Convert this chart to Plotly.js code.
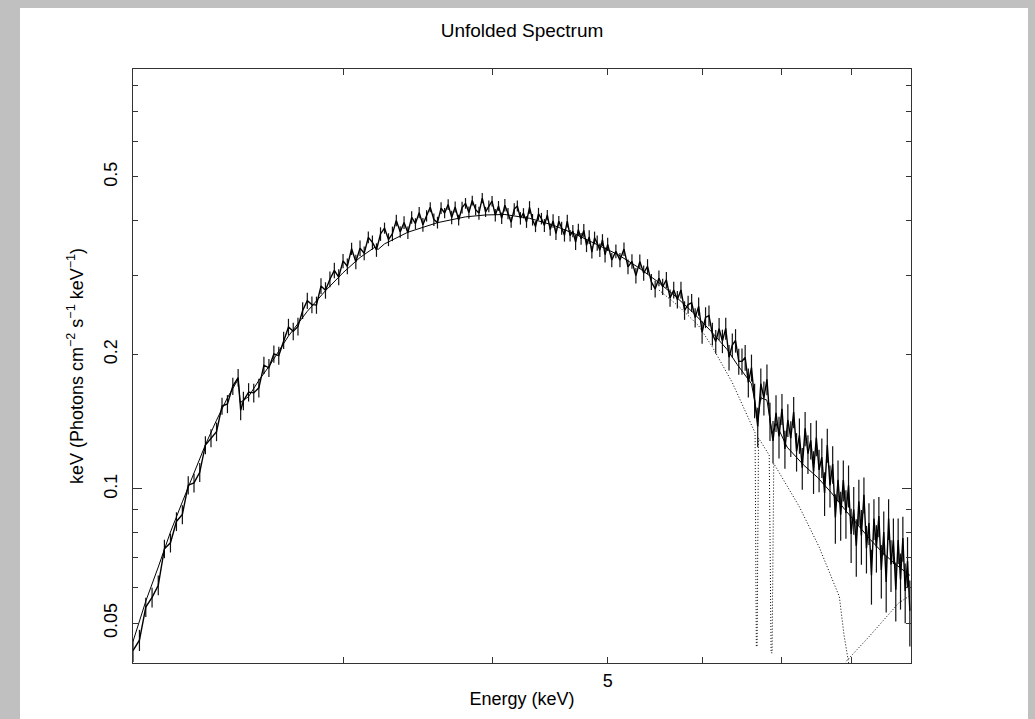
<!DOCTYPE html>
<html>
<head>
<meta charset="utf-8">
<script src="https://cdn.plot.ly/plotly-3.0.1.min.js"></script>
<style>
  html, body { margin:0; padding:0; background:#c0c0c0; width:1035px; height:719px; overflow:hidden; }
  #chart { position:absolute; left:20px; top:8px; width:1008px; height:711px; background:#fff; }
</style>
</head>
<body>
<div id="chart"></div>
<script>
// ---------- data ----------
// Energies (keV), unfolded flux E*F(E) (keV Photons cm^-2 s^-1 keV^-1), and errors
const eLow = [2.000,2.025,2.050,2.075,2.100,2.125,2.150,2.175,2.200,2.225,2.250,2.275,2.300,2.325,2.350,2.375,2.400,2.425,2.450,2.462,2.475,2.500,2.525,2.550,2.575,2.600,2.625,2.650,2.675,2.700,2.725,2.750,2.775,2.800,2.825,2.850,2.875,2.900,2.925,2.950,2.975];
const fLow = [0.0434,0.0458,0.0543,0.0571,0.0608,0.0734,0.0757,0.0845,0.0876,0.1019,0.1031,0.1089,0.1254,0.1300,0.1343,0.1533,0.1550,0.1699,0.1775,0.1500,0.1575,0.1647,0.1641,0.1684,0.1893,0.1868,0.2006,0.1989,0.2154,0.2306,0.2254,0.2312,0.2511,0.2640,0.2588,0.2582,0.2848,0.2786,0.2949,0.3088,0.2983];
const errLow = [0.0025,0.0025,0.0027,0.0029,0.0031,0.0035,0.0037,0.0041,0.0043,0.0048,0.005,0.0053,0.0058,0.006,0.0064,0.0068,0.0072,0.0076,0.008,0.0075,0.0075,0.0078,0.008,0.0082,0.0085,0.0087,0.009,0.0093,0.0096,0.0099,0.0102,0.0105,0.0108,0.011,0.0112,0.0114,0.0116,0.0118,0.012,0.0122,0.0124];

const eMid = [3.000,3.025,3.050,3.075,3.100,3.125,3.150,3.175,3.200,3.225,3.250,3.275,3.300,3.325,3.350,3.375,3.400,3.425,3.450,3.475,3.500,3.525,3.550,3.575,3.600,3.625,3.650,3.675,3.700,3.725,3.750,3.775,3.800,3.825,3.850,3.875,3.900,3.925,3.950,3.975,4.000,4.025,4.050,4.075,4.100,4.125,4.150,4.175,4.200,4.225,4.250,4.275,4.300,4.325,4.350,4.375,4.400,4.425,4.450,4.475,4.500,4.525,4.550,4.575,4.600,4.625,4.650,4.675,4.700,4.725,4.750,4.775,4.800,4.825,4.850,4.875,4.900,4.925,4.950,4.975];
const fMid = [0.3242,0.3155,0.3453,0.3226,0.3464,0.3372,0.3662,0.3567,0.3431,0.3726,
  0.3841,0.3619,0.3730,0.3996,0.3766,0.3953,0.3751,0.4058,0.3932,0.4160,
  0.3907,0.4092,0.4277,0.4013,0.3952,0.4259,0.4152,0.4335,0.4058,0.4284,
  0.4005,0.4269,0.4364,0.4163,0.4428,0.4225,0.4150,0.4484,0.4177,0.4296,
  0.4413,0.4106,0.4307,0.4042,0.4322,0.4140,0.3960,0.4237,0.4306,0.4041,
  0.4147,0.3965,0.4274,0.4011,0.3872,0.4134,0.4034,0.3894,0.4109,0.3812,
  0.3986,0.3731,0.3980,0.3841,0.3702,0.3983,0.3694,0.3782,0.3572,0.3808,
  0.3636,0.3794,0.3513,0.3669,0.3392,0.3652,0.3555,0.3427,0.3612,0.3347];
const errMid = [0.012,0.013,0.011,0.012,0.014,0.012,0.011,0.013,0.012,0.013,0.011,0.012,0.014,0.012,0.011,0.013,0.012,0.013,0.011,0.012,
  0.014,0.012,0.011,0.013,0.012,0.013,0.011,0.012,0.014,0.012,0.011,0.013,0.012,0.013,0.011,0.012,0.014,0.012,0.011,0.013,
  0.012,0.013,0.011,0.012,0.014,0.012,0.011,0.013,0.012,0.013,0.011,0.012,0.014,0.012,0.011,0.013,0.012,0.013,0.011,0.012,
  0.014,0.012,0.011,0.013,0.012,0.013,0.011,0.012,0.014,0.012,0.011,0.013,0.012,0.013,0.011,0.012,0.014,0.012,0.011,0.013];

const eHigh = [5.00,5.04,5.08,5.12,5.16,5.20,5.24,5.28,5.32,5.36,
  5.40,5.44,5.48,5.52,5.56,5.60,5.64,5.68,5.72,5.76,
  5.80,5.84,5.88,5.92,5.96,6.00,6.04,6.08,6.12,6.16,
  6.20,6.24,6.28,6.32,6.36,6.40,6.44,6.48,6.52,6.56,
  6.60,6.64,6.68,6.72,6.76,6.80,6.84,6.88,6.92,6.96,
  7.00,7.04,7.08,7.12,7.16,7.20,7.24,7.28,7.32,7.36,
  7.40,7.44,7.48,7.52,7.56,7.60,7.64,7.68,7.72,7.76,
  7.80,7.84,7.88,7.92,7.96,8.00,8.04,8.08,8.12,8.16,
  8.20,8.24,8.28,8.32,8.36,8.40,8.44,8.48,8.52,8.56,
  8.60,8.64,8.68,8.72,8.76,8.80,8.84,8.88,8.92,8.96];
const fHigh = [0.3532,0.3258,0.3408,0.3256,0.3446,0.3145,0.3235,0.3005,0.3231,0.3045,
  0.3151,0.2909,0.2806,0.2964,0.2839,0.2941,0.2678,0.2791,0.2657,0.2791,
  0.2512,0.2589,0.2612,0.2420,0.2564,0.2244,0.2422,0.2445,0.2226,0.2139,
  0.2285,0.2144,0.2289,0.1972,0.2099,0.2150,0.1931,0.1932,0.1970,0.1732,
  0.1869,0.158,0.138,0.172,0.160,0.176,0.142,0.128,0.148,0.131,
  0.1511,0.1229,0.1427,0.1298,0.1487,0.1213,0.1318,0.1115,0.1366,0.1199,
  0.1284,0.1094,0.1303,0.1103,0.1177,0.0979,0.1254,0.1018,0.1136,0.0863,
  0.1048,0.0875,0.1047,0.0883,0.1018,0.0792,0.0899,0.0745,0.0938,0.0786,
  0.0970,0.0736,0.0838,0.0640,0.0858,0.0739,0.0869,0.0658,0.0800,0.0618,
  0.0858,0.0677,0.0768,0.0594,0.0768,0.0626,0.0776,0.0590,0.0689,0.0533];
const errHigh = [0.012,0.012,0.012,0.012,0.012,0.012,0.012,0.012,0.012,0.012,
  0.012,0.012,0.012,0.012,0.012,0.012,0.012,0.012,0.012,0.012,
  0.012,0.012,0.012,0.012,0.012,0.013,0.013,0.013,0.013,0.013,
  0.013,0.013,0.013,0.013,0.013,0.013,0.013,0.013,0.013,0.013,
  0.013,0.014,0.014,0.014,0.014,0.014,0.014,0.014,0.014,0.014,
  0.012,0.012,0.012,0.012,0.012,0.012,0.012,0.012,0.012,0.012,
  0.012,0.012,0.012,0.012,0.012,0.011,0.011,0.011,0.011,0.011,
  0.011,0.011,0.011,0.011,0.011,0.011,0.011,0.011,0.011,0.011,
  0.009,0.009,0.009,0.009,0.009,0.009,0.009,0.009,0.009,0.009,
  0.009,0.009,0.009,0.009,0.009,0.009,0.009,0.009,0.009,0.009];

// Total model (solid line)
const modelE = [2.00,2.05,2.10,2.15,2.20,2.25,2.30,2.35,2.40,2.45,2.46,2.50,2.55,2.60,2.70,2.80,2.90,3.00,3.10,3.19,3.21,3.25,3.40,3.60,3.80,3.95,4.10,4.30,4.50,4.70,4.90,5.10,5.30,5.50,5.70,5.90,6.10,6.30,6.42,6.60,6.64,6.68,6.72,6.80,6.87,6.92,7.07,7.30,7.50,7.70,7.90,8.10,8.30,8.50,8.70,8.96];
const modelF = [0.0455,0.0560,0.0668,0.0800,0.0935,0.1090,0.1255,0.1425,0.1600,0.1760,0.1560,0.1610,0.1750,0.1880,0.2200,0.2500,0.2780,0.3050,0.3300,0.3480,0.3440,0.3540,0.3760,0.3950,0.4070,0.4110,0.4120,0.4040,0.3900,0.3720,0.3530,0.3350,0.3140,0.2920,0.2700,0.2480,0.2260,0.2050,0.1900,0.1720,0.1580,0.1420,0.1600,0.1580,0.1330,0.1400,0.1240,0.1130,0.1060,0.0980,0.0900,0.0830,0.0770,0.0720,0.0680,0.0640];

// Model components (dotted)
const compAE = [5.52,5.74,5.96,6.12,6.36,6.61,6.646,6.662,6.672,6.69,6.83,6.855,6.868,6.89,7.24,7.52,7.82,7.89,7.97,8.05];
const compAF = [0.279,0.256,0.232,0.208,0.173,0.138,0.1335,0.0443,0.0443,0.130,0.119,0.0429,0.0429,0.114,0.0911,0.0741,0.0573,0.0471,0.040,0.034];
const compBE = [7.80,7.92,8.28,8.77,8.98];
const compBF = [0.036,0.041,0.0466,0.0555,0.0578];

// Axis ticks
const xTickVals = [5];
const xTickText = ['5'];
const xMinorVals = [2,3,4,6,7,8];
const yTickVals = [0.05,0.1,0.2,0.5];
const yTickText = ['0.05','0.1','0.2','0.5'];
const yMinorVals = [0.06,0.07,0.08,0.09,0.3,0.4,0.6,0.7,0.8];
const yMajorVals = [0.1];
const xRange = [2.0, 8.98];
const yRange = [0.0407, 0.873];

// ---------- build ----------
const energy = eLow.concat(eMid, eHigh);
const flux = fLow.concat(fMid, fHigh);
const fluxErr = errLow.concat(errMid, errHigh);

const FONT = 'Liberation Sans, Arial, Helvetica, sans-serif';
const AXCOL = '#333333';
const DOTS = '1px,2px';

const traces = [
  { x: energy, y: flux, type: 'scatter', mode: 'lines',
    line: { color: '#000', width: 1.4 },
    error_y: { type: 'data', array: fluxErr, visible: true, color: '#111', thickness: 1.2, width: 0 },
    hoverinfo: 'skip' },
  { x: modelE, y: modelF, type: 'scatter', mode: 'lines', yaxis: 'y2',
    line: { color: '#000', width: 1 }, hoverinfo: 'skip' },
  { x: compAE, y: compAF, type: 'scatter', mode: 'lines',
    line: { color: '#000', width: 1, dash: DOTS }, hoverinfo: 'skip' },
  { x: compBE, y: compBF, type: 'scatter', mode: 'lines',
    line: { color: '#000', width: 1, dash: DOTS }, hoverinfo: 'skip' }
];

const logR = r => [Math.log10(r[0]), Math.log10(r[1])];

const layout = {
  width: 1008, height: 711,
  margin: { l: 113, r: 117, t: 61, b: 56 },
  paper_bgcolor: '#fff', plot_bgcolor: '#fff',
  showlegend: false, hovermode: false,
  font: { family: FONT, color: '#000', size: 18 },
  title: { text: 'Unfolded Spectrum', xref: 'paper', x: 0.5, xanchor: 'center',
           yref: 'container', y: 0.968, yanchor: 'middle',
           font: { family: FONT, size: 19, color: '#000' } },
  xaxis: {
    type: 'log', range: logR(xRange), autorange: false,
    tickmode: 'array', tickvals: xTickVals, ticktext: xTickText,
    ticks: 'inside', ticklen: 6, tickwidth: 1, tickcolor: AXCOL,
    minor: { tickmode: 'array', tickvals: xMinorVals, ticks: 'inside', ticklen: 6, tickwidth: 1, tickcolor: AXCOL, showgrid: false },
    showline: true, linecolor: AXCOL, linewidth: 1, mirror: 'allticks',
    showgrid: false, zeroline: false,
    tickfont: { family: FONT, size: 18, color: '#000' },
    ticklabelstandoff: 1,
    title: { text: 'Energy (keV)', standoff: 2, font: { family: FONT, size: 18, color: '#000' } }
  },
  yaxis: {
    type: 'log', range: logR(yRange), autorange: false,
    tickmode: 'array', tickvals: yTickVals, ticktext: yTickText, tickangle: -90,
    ticks: 'inside', ticklen: 5, tickwidth: 1, tickcolor: AXCOL,
    minor: { tickmode: 'array', tickvals: yMinorVals, ticks: 'inside', ticklen: 5, tickwidth: 1, tickcolor: AXCOL, showgrid: false },
    showline: true, linecolor: AXCOL, linewidth: 1, mirror: 'allticks',
    showgrid: false, zeroline: false,
    tickfont: { family: FONT, size: 18, color: '#000' },
    ticklabelstandoff: 8,
    title: { text: 'keV (Photons cm<sup>\u22122</sup> s<sup>\u22121</sup> keV<sup>\u22121</sup>)', standoff: 12,
             font: { family: FONT, size: 18, color: '#000' } }
  },
  yaxis2: {
    type: 'log', range: logR(yRange), autorange: false, overlaying: 'y', side: 'left',
    tickmode: 'array', tickvals: yMajorVals, showticklabels: false,
    ticks: 'inside', ticklen: 9, tickwidth: 1, tickcolor: AXCOL,
    showline: false, mirror: 'ticks', showgrid: false, zeroline: false
  }
};

Plotly.newPlot('chart', traces, layout, { staticPlot: true, displayModeBar: false });
</script>
</body>
</html>
